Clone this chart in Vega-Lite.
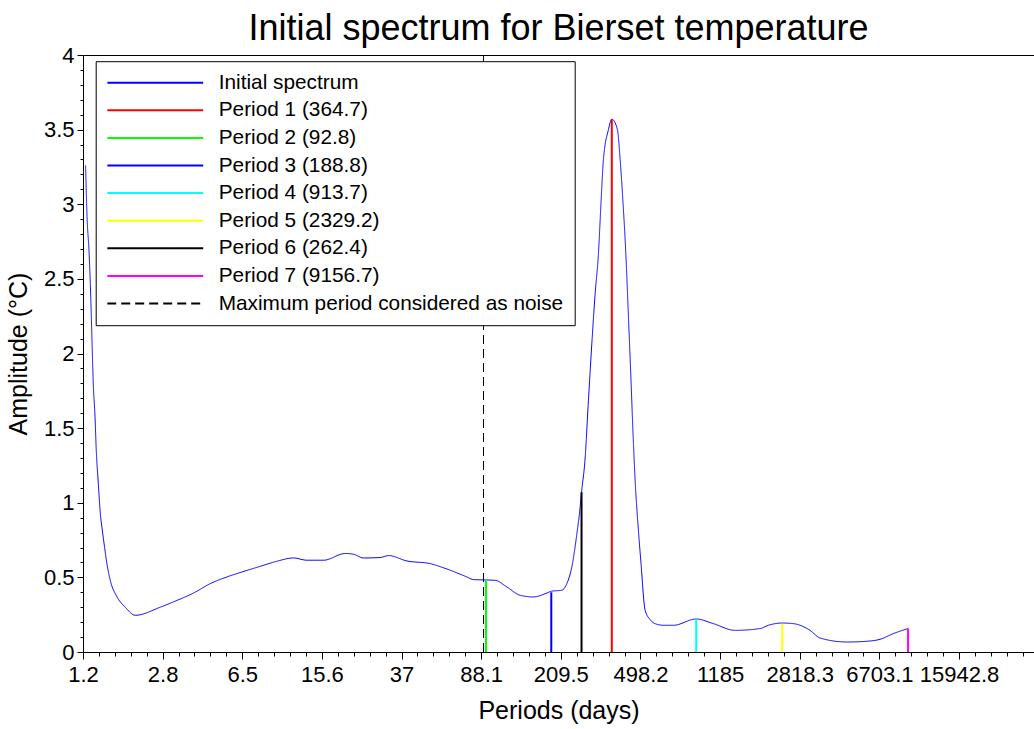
{
  "$schema": "https://vega.github.io/schema/vega-lite/v6.json",
  "autosize": {"type": "none"},
  "padding": {"top": 55, "left": 83, "right": 0, "bottom": 77},
  "width": 951,
  "height": 597,
  "background": "white",
  "config": {
    "view": {"stroke": null},
    "font": "Liberation Sans",
    "axis": {"grid": false, "domainColor": "black", "tickColor": "black", "labelColor": "black", "titleColor": "black", "labelFont": "Liberation Sans", "titleFont": "Liberation Sans", "titleFontWeight": "normal"}
  },
  "title": {"text": "Initial spectrum for Bierset temperature", "fontSize": 36, "fontWeight": "normal", "font": "Liberation Sans", "color": "black", "anchor": "middle", "offset": -4},
  "datasets": {
    "spectrum": [
      {"period": 1.19, "amplitude": 3.26}, {"period": 1.209, "amplitude": 2.92}, {"period": 1.235, "amplitude": 2.69}, {"period": 1.253, "amplitude": 2.47},
      {"period": 1.267, "amplitude": 2.245}, {"period": 1.28, "amplitude": 2.02}, {"period": 1.294, "amplitude": 1.8}, {"period": 1.319, "amplitude": 1.575},
      {"period": 1.337, "amplitude": 1.35}, {"period": 1.367, "amplitude": 1.13}, {"period": 1.397, "amplitude": 0.93}, {"period": 1.428, "amplitude": 0.816},
      {"period": 1.464, "amplitude": 0.7}, {"period": 1.502, "amplitude": 0.59}, {"period": 1.557, "amplitude": 0.48}, {"period": 1.675, "amplitude": 0.37},
      {"period": 1.833, "amplitude": 0.3}, {"period": 2.044, "amplitude": 0.246}, {"period": 2.68, "amplitude": 0.3}, {"period": 3.22, "amplitude": 0.346},
      {"period": 3.85, "amplitude": 0.395}, {"period": 4.62, "amplitude": 0.458}, {"period": 5.54, "amplitude": 0.503}, {"period": 6.52, "amplitude": 0.536},
      {"period": 7.96, "amplitude": 0.574}, {"period": 9.54, "amplitude": 0.608}, {"period": 11.43, "amplitude": 0.63}, {"period": 13.23, "amplitude": 0.615},
      {"period": 15.85, "amplitude": 0.615}, {"period": 20.06, "amplitude": 0.66}, {"period": 21.96, "amplitude": 0.655}, {"period": 24.48, "amplitude": 0.63},
      {"period": 29.36, "amplitude": 0.633}, {"period": 32.13, "amplitude": 0.646}, {"period": 39.25, "amplitude": 0.61}, {"period": 50.57, "amplitude": 0.592},
      {"period": 60.64, "amplitude": 0.556}, {"period": 75.38, "amplitude": 0.503}, {"period": 80.99, "amplitude": 0.485}, {"period": 90.29, "amplitude": 0.483},
      {"period": 102.5, "amplitude": 0.48}, {"period": 116.4, "amplitude": 0.436}, {"period": 134.6, "amplitude": 0.38}, {"period": 155.5, "amplitude": 0.369},
      {"period": 179.9, "amplitude": 0.395}, {"period": 188.8, "amplitude": 0.407}, {"period": 211.8, "amplitude": 0.414}, {"period": 223.6, "amplitude": 0.458},
      {"period": 236.1, "amplitude": 0.57}, {"period": 249.3, "amplitude": 0.79}, {"period": 258.4, "amplitude": 0.97}, {"period": 262.4, "amplitude": 1.07},
      {"period": 272.9, "amplitude": 1.3}, {"period": 281.9, "amplitude": 1.65}, {"period": 294.5, "amplitude": 2.1}, {"period": 304.2, "amplitude": 2.4},
      {"period": 315.4, "amplitude": 2.67}, {"period": 324.8, "amplitude": 3.03}, {"period": 333.0, "amplitude": 3.3}, {"period": 351.6, "amplitude": 3.5},
      {"period": 364.7, "amplitude": 3.57}, {"period": 387.7, "amplitude": 3.5}, {"period": 399.3, "amplitude": 3.3}, {"period": 411.2, "amplitude": 3.03},
      {"period": 424.8, "amplitude": 2.67}, {"period": 435.6, "amplitude": 2.3}, {"period": 450.0, "amplitude": 1.8}, {"period": 459.9, "amplitude": 1.45},
      {"period": 470.1, "amplitude": 1.15}, {"period": 487.2, "amplitude": 0.815}, {"period": 500.1, "amplitude": 0.61}, {"period": 524.1, "amplitude": 0.28},
      {"period": 553.4, "amplitude": 0.217}, {"period": 584.3, "amplitude": 0.19}, {"period": 639.5, "amplitude": 0.179}, {"period": 713.0, "amplitude": 0.179},
      {"period": 913.7, "amplitude": 0.221}, {"period": 1101, "amplitude": 0.19}, {"period": 1394, "amplitude": 0.145}, {"period": 1830, "amplitude": 0.157},
      {"period": 2003, "amplitude": 0.179}, {"period": 2329.2, "amplitude": 0.194}, {"period": 2629, "amplitude": 0.19}, {"period": 3152, "amplitude": 0.145},
      {"period": 3514, "amplitude": 0.094}, {"period": 4698, "amplitude": 0.067}, {"period": 5840, "amplitude": 0.072}, {"period": 6748, "amplitude": 0.085},
      {"period": 7795, "amplitude": 0.123}, {"period": 9156.7, "amplitude": 0.157}
    ],
    "periods": [
      {"series": "Period 1 (364.7)", "period": 364.7, "amplitude": 3.57},
      {"series": "Period 2 (92.8)", "period": 92.8, "amplitude": 0.48},
      {"series": "Period 3 (188.8)", "period": 188.8, "amplitude": 0.4},
      {"series": "Period 4 (913.7)", "period": 913.7, "amplitude": 0.221},
      {"series": "Period 5 (2329.2)", "period": 2329.2, "amplitude": 0.19},
      {"series": "Period 6 (262.4)", "period": 262.4, "amplitude": 1.07},
      {"series": "Period 7 (9156.7)", "period": 9156.7, "amplitude": 0.157}
    ],
    "noise": [
      {"series": "Maximum period considered as noise", "period": 90.3}
    ]
  },
  "resolve": {"axis": {"x": "independent", "y": "independent"}},
  "layer": [
    {
      "data": {"name": "spectrum"},
      "mark": {"type": "line", "interpolate": "monotone", "clip": true, "strokeWidth": 1},
      "encoding": {
        "x": {"field": "period", "type": "quantitative",
          "scale": {"type": "log", "domain": [1.15718, 36040], "nice": false},
          "axis": {"orient": "bottom", "values": [1.15718, 2.75226, 6.546, 15.5692, 37.0299, 88.0725, 209.474, 498.215, 1184.96, 2818.32, 6703.13, 15942.8],
            "format": ".1~f", "labelFontSize": 22, "tickSize": 7, "labelPadding": 5, "labelFlush": false, "labelOverlap": false, "labelBound": false,
            "title": "Periods (days)", "titleFontSize": 25, "titlePadding": 13}},
        "y": {"field": "amplitude", "type": "quantitative",
          "scale": {"domain": [0, 4], "nice": false},
          "axis": {"orient": "left", "values": [0, 0.5, 1, 1.5, 2, 2.5, 3, 3.5, 4], "format": ".1~f", "labelFontSize": 22, "tickSize": 6, "labelPadding": 3,
            "labelFlush": false, "labelOverlap": false, "title": "Amplitude (°C)", "titleFontSize": 25, "titlePadding": 12}},
        "color": {"datum": "Initial spectrum", "type": "nominal", "title": null,
          "scale": {"domain": ["Initial spectrum", "Period 1 (364.7)", "Period 2 (92.8)", "Period 3 (188.8)", "Period 4 (913.7)", "Period 5 (2329.2)", "Period 6 (262.4)", "Period 7 (9156.7)", "Maximum period considered as noise"],
            "range": ["#0000ff", "#ff0000", "#00ff00", "#0000ff", "#00ffff", "#ffff00", "#000000", "#ff00ff", "#000000"]},
          "legend": {"title": null, "orient": "none", "legendX": 12.7, "legendY": 6.2, "symbolType": "stroke", "symbolSize": 9216, "symbolStrokeWidth": 2,
            "symbolOffset": -1, "clipHeight": 20, "labelFontSize": 20.8, "labelFont": "Liberation Sans", "labelColor": "black", "labelOffset": 14.5, "labelLimit": 600, "padding": 11.5,
            "strokeColor": "black", "fillColor": "white", "rowPadding": 6.6, "cornerRadius": 0}},
        "strokeDash": {"datum": "Initial spectrum", "type": "nominal", "title": null,
          "scale": {"domain": ["Initial spectrum", "Period 1 (364.7)", "Period 2 (92.8)", "Period 3 (188.8)", "Period 4 (913.7)", "Period 5 (2329.2)", "Period 6 (262.4)", "Period 7 (9156.7)", "Maximum period considered as noise"],
            "range": [[1, 0], [1, 0], [1, 0], [1, 0], [1, 0], [1, 0], [1, 0], [1, 0], [9, 5]]}}
      }
    },
    {
      "data": {"name": "periods"},
      "mark": {"type": "rule", "strokeWidth": 2},
      "encoding": {
        "x": {"field": "period", "type": "quantitative",
          "axis": {"orient": "bottom", "values": [1.37613, 1.6365, 1.94613, 2.31436, 3.27302, 3.89232, 4.62878, 5.50452, 7.78455, 9.25745, 11.009, 13.092, 18.515, 22.0182, 26.1842, 31.1384, 44.0362, 52.3682, 62.2768, 74.0598, 104.737, 124.555, 148.121, 176.145, 249.108, 296.241, 352.292, 418.948, 592.481, 704.581, 837.895, 996.43, 1409.16, 1675.79, 1992.86, 2369.92, 3351.57, 3985.71, 4739.84, 5636.64, 7971.41, 9479.66, 11273.3, 13406.26, 18959.3, 22546.5, 26812.6, 31885.6],
            "labels": false, "domain": false, "tickSize": 4, "title": null}},
        "y": {"field": "amplitude", "type": "quantitative",
          "axis": {"orient": "left", "values": [0.1, 0.2, 0.3, 0.4, 0.6, 0.7, 0.8, 0.9, 1.1, 1.2, 1.3, 1.4, 1.6, 1.7, 1.8, 1.9, 2.1, 2.2, 2.3, 2.4, 2.6, 2.7, 2.8, 2.9, 3.1, 3.2, 3.3, 3.4, 3.6, 3.7, 3.8, 3.9],
            "labels": false, "domain": false, "tickSize": 3, "title": null}},
        "y2": {"datum": 0},
        "color": {"field": "series", "type": "nominal", "title": null},
        "strokeDash": {"field": "series", "type": "nominal", "title": null}
      }
    },
    {
      "data": {"name": "noise"},
      "mark": {"type": "rule", "strokeWidth": 1},
      "encoding": {
        "x": {"field": "period", "type": "quantitative",
          "axis": {"orient": "top", "labels": false, "ticks": false, "domain": true, "title": null}},
        "color": {"field": "series", "type": "nominal", "title": null},
        "strokeDash": {"field": "series", "type": "nominal", "title": null}
      }
    }
  ]
}
